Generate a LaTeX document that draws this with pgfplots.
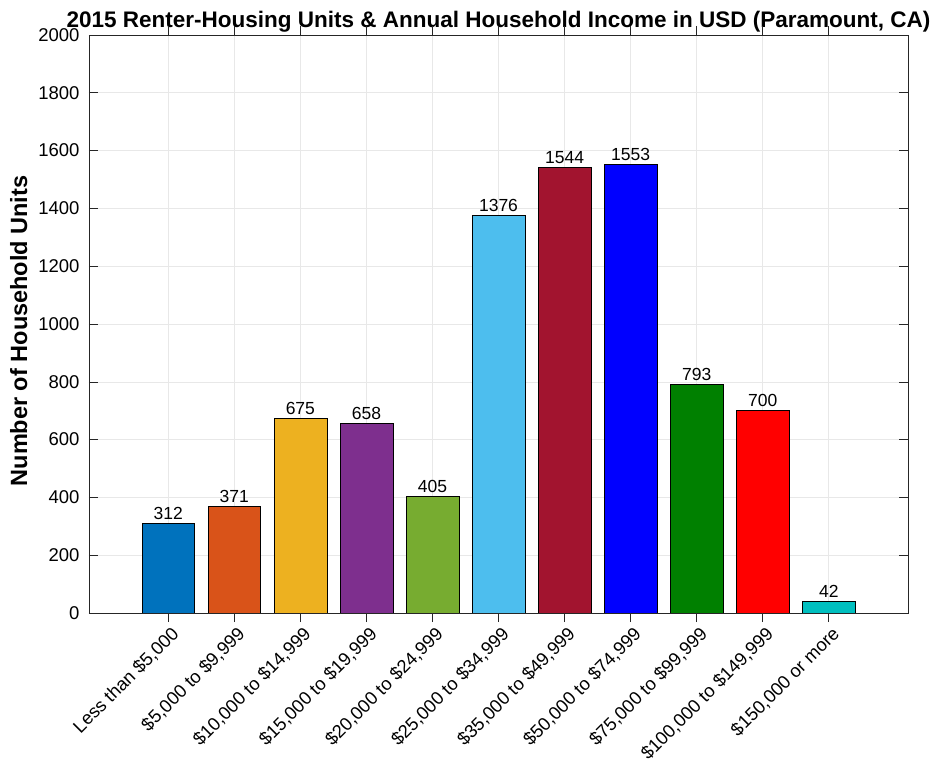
\documentclass[border=0pt]{standalone}
\usepackage{fontspec}
\setmainfont{Liberation Sans}
\setsansfont{Liberation Sans}
\usepackage{pgfplots}
\pgfplotsset{compat=1.18}
\usetikzlibrary{calc}
\definecolor{c1}{rgb}{0,0.447,0.741}
\definecolor{c2}{rgb}{0.850,0.325,0.098}
\definecolor{c3}{rgb}{0.929,0.694,0.125}
\definecolor{c4}{rgb}{0.494,0.184,0.556}
\definecolor{c5}{rgb}{0.466,0.674,0.188}
\definecolor{c6}{rgb}{0.301,0.745,0.933}
\definecolor{c7}{rgb}{0.635,0.078,0.184}
\definecolor{c8}{rgb}{0,0,1}
\definecolor{c9}{rgb}{0,0.5,0}
\definecolor{c10}{rgb}{1,0,0}
\definecolor{c11}{rgb}{0,0.75,0.75}
\definecolor{axc}{rgb}{0.15,0.15,0.15}
\definecolor{gridc}{rgb}{0.91,0.91,0.91}
\pgfplotsset{
  layers/mylayers/.define layer set={
    axis background,axis grid,main,axis ticks,axis lines,axis tick labels,
    axis descriptions,axis foreground
  }{
    grid style={/pgfplots/on layer=axis grid},
    tick style={/pgfplots/on layer=axis ticks},
    axis line style={/pgfplots/on layer=axis lines},
    label style={/pgfplots/on layer=axis descriptions},
    legend style={/pgfplots/on layer=axis descriptions},
    title style={/pgfplots/on layer=axis descriptions},
    colorbar style={/pgfplots/on layer=axis descriptions},
    ticklabel style={/pgfplots/on layer=axis tick labels},
    axis background@ style={/pgfplots/on layer=axis background},
    3d box foreground style={/pgfplots/on layer=axis foreground},
  },
}
\begin{document}
\begin{tikzpicture}
\begin{axis}[
  name=ax,
  set layers=mylayers,
  scale only axis,
  width=819pt, height=578pt,
  xmin=-0.2, xmax=12.2,
  ymin=0, ymax=2000,
  ytick={0,200,...,2000},
  xtick={1,...,11},
  xticklabels={Less than \$5{,}000,\$5{,}000 to \$9{,}999,\$10{,}000 to \$14{,}999,\$15{,}000 to \$19{,}999,\$20{,}000 to \$24{,}999,\$25{,}000 to \$34{,}999,\$35{,}000 to \$49{,}999,\$50{,}000 to \$74{,}999,\$75{,}000 to \$99{,}999,\$100{,}000 to \$149{,}999,\$150{,}000 or more},
  /pgf/number format/assume math mode=true,
  /pgf/number format/1000 sep={},
  yticklabel style={font=\fontsize{18.5}{20}\selectfont, color=black, xshift=-6pt},
  xticklabel style={font=\fontsize{18.3}{20}\selectfont, color=black, xshift=2pt, yshift=-3pt, rotate=45, anchor=north east, inner sep=0pt},
  tick align=inside,
  major tick length=9pt,
  tick style={color=axc, line width=0.6pt},
  axis line style={color=axc, line width=0.6pt},
  grid=major,
  grid style={color=gridc, line width=0.6pt},
  every axis title shift=0pt,
  title={2015 Renter-Housing Units \& Annual Household Income in USD (Paramount, CA)},
  title style={font=\fontsize{22.5}{24}\selectfont\bfseries, at={(axis description cs:0.5,1)}, anchor=base, yshift=7pt, inner sep=0pt},
  ylabel={Number of Household Units},
  ylabel style={font=\fontsize{23.5}{25}\selectfont\bfseries, at={(axis description cs:-0.0757,0.488)}, anchor=base, inner sep=0pt},
  ybar, bar width=0.8, bar shift=0pt,
  nodes near coords,
  nodes near coords style={font=\fontsize{17.5}{19}\selectfont, color=black},
  every axis plot/.append style={draw=black, line width=0.5pt},
]
\addplot[fill=c1] coordinates {(1,312)};
\addplot[fill=c2] coordinates {(2,371)};
\addplot[fill=c3] coordinates {(3,675)};
\addplot[fill=c4] coordinates {(4,658)};
\addplot[fill=c5] coordinates {(5,405)};
\addplot[fill=c6] coordinates {(6,1376)};
\addplot[fill=c7] coordinates {(7,1544)};
\addplot[fill=c8] coordinates {(8,1553)};
\addplot[fill=c9] coordinates {(9,793)};
\addplot[fill=c10] coordinates {(10,700)};
\addplot[fill=c11] coordinates {(11,42)};
\end{axis}
\pgfresetboundingbox
\path[use as bounding box] ($(ax.south west)+(-89pt,-150pt)$) rectangle ($(ax.north east)+(25pt,35pt)$);
\end{tikzpicture}
\end{document}
